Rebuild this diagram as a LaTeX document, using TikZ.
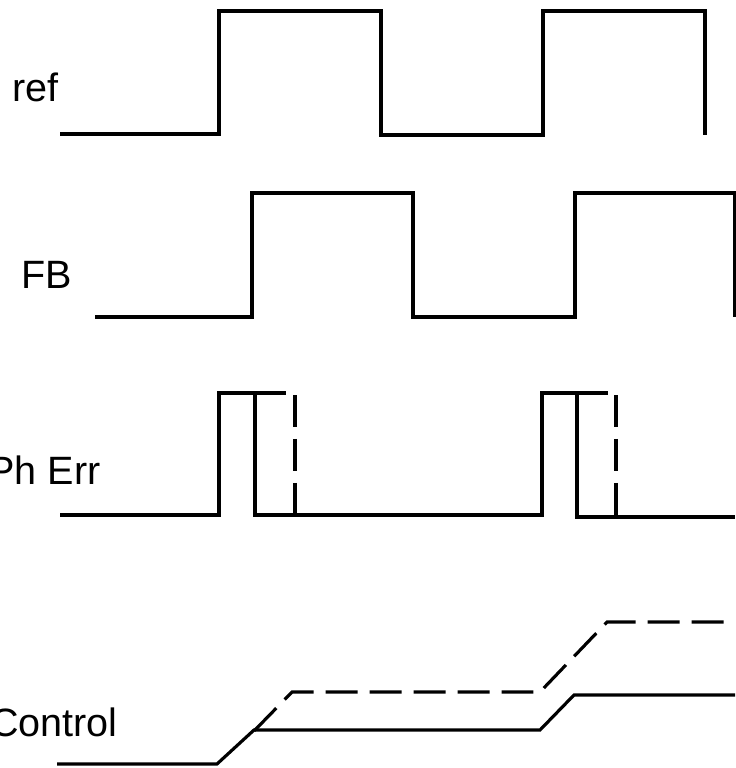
\documentclass[tikz,border=0pt]{standalone}
\usepackage{fontspec}
\setmainfont{Liberation Sans}
\usepackage{tikz}

\tikzset{
  wave/.style={line width=1.8pt},
  dwave/.style={line width=1.8pt, dash pattern=on 0.64cm off 0.24cm},
  lbl/.style={inner sep=0pt, font=\fontsize{22.5}{27}\selectfont}
}

\begin{document}
\begin{tikzpicture}[x=0.02cm, y=-0.02cm]
			\useasboundingbox (0,0) rectangle (735,768);
			% labels
			\node[lbl, anchor=base west] (ref) at (12,101) {ref};
			\node[lbl, anchor=base west] (fb) at (21,288) {FB};
			\node[lbl, anchor=base east] (pherr) at (101,484) {Ph Err};
			\node[lbl, anchor=base east] (ctrl) at (118,736) {Control};
			% ref clock
			\draw[wave] (60,134) -- (219,134) -- (219,11) -- (381,11) -- (381,135) -- (543,135) -- (543,11) -- (705,11) -- (705,135);
			% feedback clock
			\draw[wave] (95,317) -- (252,317) -- (252,193) -- (413,193) -- (413,317) -- (575,317) -- (575,193) -- (735,193) -- (735,317);
			% phase error pulses
			\draw[wave] (60,515) -- (219,515) -- (219,393) -- (286,393);
			\draw[wave] (255,393) -- (255,515) -- (542,515) -- (542,393) -- (608,393);
			\draw[wave] (577,393) -- (577,517) -- (735,517);
			\draw[dwave] (295,395) -- (295,515);
			\draw[dwave] (616,395) -- (616,515);
			% control voltage
			\draw[wave] (57,764) -- (217,764) -- (254,730) -- (540,730) -- (574,695) -- (735,695);
			\draw[dwave] (254,731) -- (292,692) -- (540,692) -- (607,622) -- (735,622);
		\end{tikzpicture}
\end{document}
